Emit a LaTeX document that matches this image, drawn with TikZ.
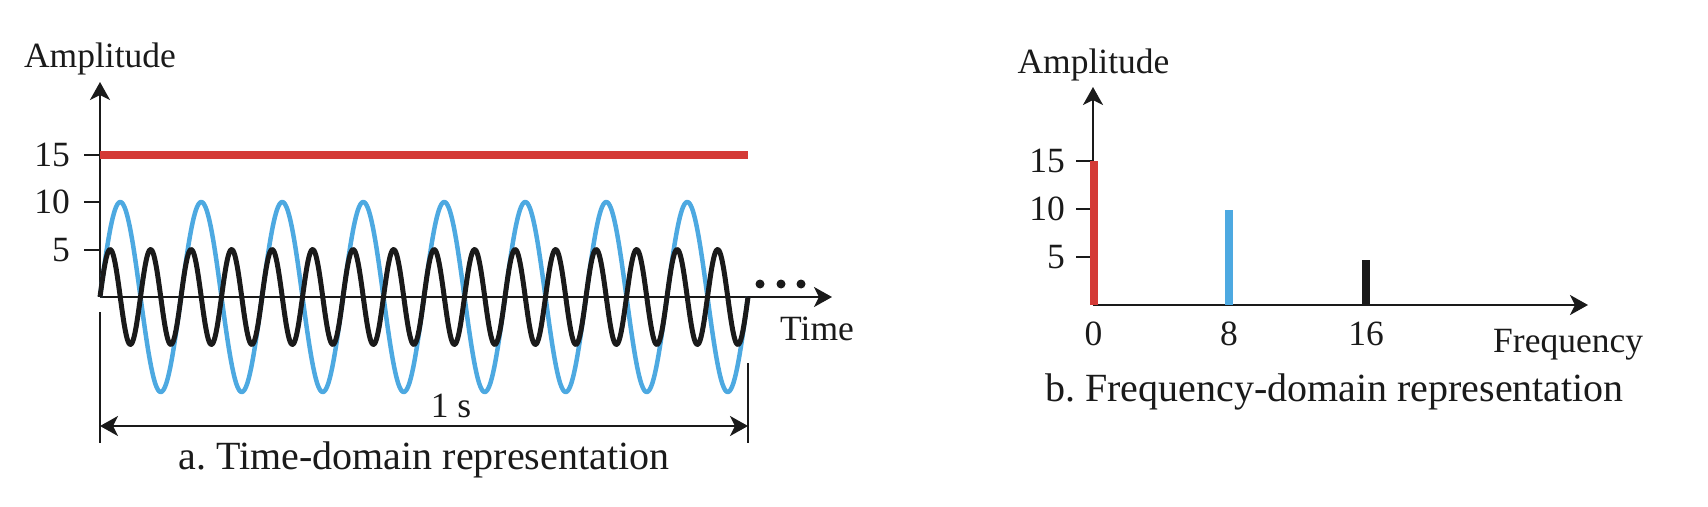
\documentclass[tikz,border=0pt]{standalone}
\usepackage{fontspec}
\setmainfont{Liberation Serif}
\usetikzlibrary{arrows.meta}
\definecolor{sigred}{HTML}{D43A36}
\definecolor{sigblue}{HTML}{4DA9E1}
\definecolor{sigblack}{HTML}{1A1A1A}
\frenchspacing
\begin{document}
\begin{tikzpicture}[x=1pt,y=-1pt,
  axis/.style={line width=2.5pt, draw=sigblack, -{Stealth[length=18pt,width=20pt,inset=5pt]}},
  dimline/.style={line width=2.5pt, draw=sigblack, {Stealth[length=18pt,width=20pt,inset=5pt]}-{Stealth[length=18pt,width=20pt,inset=5pt]}},
  extline/.style={line width=2.5pt, draw=sigblack},
  lbl/.style={inner sep=0pt, font=\fontsize{35.5}{40}\selectfont, text=sigblack},
  captext/.style={inner sep=0pt, font=\fontsize{40}{46}\selectfont, text=sigblack},
  tickmark/.style={line width=2.5pt, draw=sigblack},
  wave/.style={line join=round},
  bar/.style={line width=8pt}]
\useasboundingbox (0,0) rectangle (1708,506);

% ---------- a. time domain ----------
\coordinate (o1) at (100,297);
\coordinate (y1) at (100,82);
\coordinate (x1) at (832,297);
\draw[axis] (o1) -- (y1);
\draw[axis] (o1) -- (x1);
\foreach \v/\yy in {15/155,10/202,5/250}{
  \coordinate (ta\v) at (84,\yy);
  \coordinate (tb\v) at (100,\yy);
  \draw[tickmark] (ta\v) -- (tb\v);
  \node[lbl, anchor=east] (la\v) at (70,\yy) {\v};
}
\node[lbl, anchor=base] (amp1) at (100,67) {Amplitude};
\node[lbl, anchor=base west] (time) at (780,340) {Time};

\coordinate (r1) at (100,155);
\coordinate (r2) at (748,155);
\draw[bar, sigred] (r1) -- (r2);

\draw[wave, sigblue, line width=4.5pt] plot[domain=0:648, samples=649] ({100+\x},{297-95*sin(\x/81*360)});
\draw[wave, sigblack, line width=5pt] plot[domain=0:648, samples=649] ({100+\x},{297-47.5*sin(\x/40.5*360)});

\foreach \xx in {760,781,801}{\fill[sigblack] (\xx,284) circle (4.5);}

\coordinate (e1a) at (100,312);
\coordinate (e1b) at (100,443);
\coordinate (e2a) at (748,363);
\coordinate (e2b) at (748,443);
\draw[extline] (e1a) -- (e1b);
\draw[extline] (e2a) -- (e2b);
\coordinate (d1) at (100,426);
\coordinate (d2) at (748,426);
\draw[dimline] (d1) -- (d2);
\node[lbl, anchor=base] (ones) at (451,417) {1 s};
\node[captext, anchor=base] (capa) at (424,469) {a. Time-domain representation};

% ---------- b. frequency domain ----------
\coordinate (o2) at (1093,305);
\coordinate (y2) at (1093,87);
\coordinate (x2) at (1588,305);
\draw[axis] (o2) -- (y2);
\draw[axis] (o2) -- (x2);
\foreach \v/\yy in {15/161,10/209,5/257}{
  \coordinate (tc\v) at (1076,\yy);
  \coordinate (td\v) at (1093,\yy);
  \draw[tickmark] (tc\v) -- (td\v);
  \node[lbl, anchor=east] (lb\v) at (1065,\yy) {\v};
}
\node[lbl, anchor=base] (amp2) at (1093.5,73) {Amplitude};

\coordinate (b0) at (1093.5,305);
\coordinate (b0t) at (1093.5,161);
\coordinate (b8) at (1229,305);
\coordinate (b8t) at (1229,210);
\coordinate (b16) at (1365.5,305);
\coordinate (b16t) at (1365.5,260);
\draw[bar, sigred] (b0) -- (b0t);
\draw[bar, sigblue] (b8) -- (b8t);
\draw[bar, sigblack] (b16) -- (b16t);

\node[lbl, anchor=base] (f0) at (1093.5,345) {0};
\node[lbl, anchor=base] (f8) at (1229,345) {8};
\node[lbl, anchor=base] (f16) at (1366,345) {16};
\node[lbl, anchor=base west] (freq) at (1493,352) {Frequency};
\node[captext, anchor=base] (capb) at (1334.5,401) {b. Frequency-domain representation};
\end{tikzpicture}
\end{document}
